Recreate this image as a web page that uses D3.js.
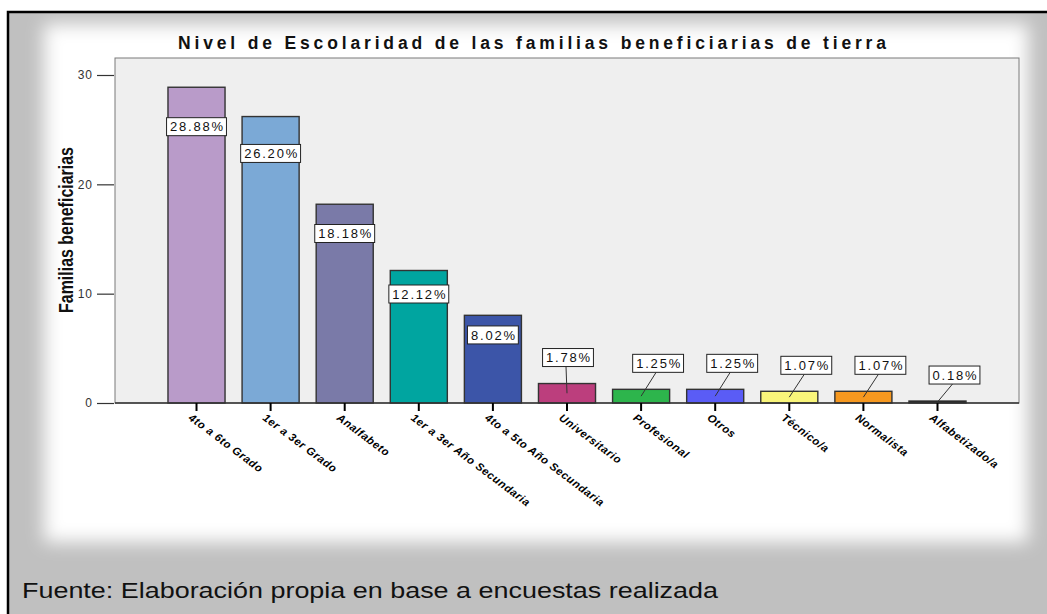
<!DOCTYPE html>
<html>
<head>
<meta charset="utf-8">
<script src="https://cdn.jsdelivr.net/npm/d3@7"></script>
<style>
    html, body { margin: 0; padding: 0; background: #ffffff; }
    svg { display: block; }
</style>
</head>
<body>
<svg id="chart" width="1047" height="614"></svg>
<script>
"use strict";


//
// Data
//

var categories = [
    "4to a 6to Grado",
    "1er a 3er Grado",
    "Analfabeto",
    "1er a 3er Año Secundaria",
    "4to a 5to Año Secundaria",
    "Universitario",
    "Profesional",
    "Otros",
    "Técnico/a",
    "Normalista",
    "Alfabetizado/a"
];

var values = [28.88, 26.20, 18.18, 12.12, 8.02, 1.78, 1.25, 1.25, 1.07, 1.07, 0.18];

var barColors = ["#b99bc9", "#7ba9d6", "#7a7aa8", "#00a5a0", "#3c55a8", "#bc3e7d",
                 "#2db54c", "#5a5cf6", "#f9f57a", "#f6981f", "#111111"];

var yTicks = [0, 10, 20, 30];

var titleText = "Nivel de Escolaridad de las familias beneficiarias de tierra";
var yTitle = "Familias beneficiarias";
var sourceText = "Fuente: Elaboración propia en base a encuestas realizada";


//
// Layout
//

var plot = { left: 115, right: 1019, top: 58, bottom: 403 };

var svg = d3.select("#chart");
var defs = svg.append("defs");

var glow = defs.append("filter")
    .attr("id", "glow")
    .attr("x", "-10%").attr("y", "-10%")
    .attr("width", "120%").attr("height", "120%");
glow.append("feGaussianBlur").attr("stdDeviation", 9);

// white page, grey frame, black border on the left and top
svg.append("rect")
    .attr("x", 8).attr("y", 12)
    .attr("width", 1047 - 8).attr("height", 614 - 12)
    .style("fill", "#c0c0c0");

svg.append("rect")
    .attr("x", 44).attr("y", 24)
    .attr("width", 984).attr("height", 518)
    .style("fill", "#ffffff")
    .attr("filter", "url(#glow)");

svg.append("path")
    .attr("d", "M8,614 V12 H1047")
    .style("fill", "none")
    .style("stroke", "#000")
    .style("stroke-width", 2.5);


//
// Scales
//

var x = d3.scaleBand()
    .domain(categories)
    .range([plot.left, plot.right])
    .paddingInner(0.23)
    .paddingOuter(0.715);

var y = d3.scaleLinear()
    .domain([0, 30])
    .range([plot.bottom, 75]);


//
// Plot frame
//

svg.append("rect")
    .attr("x", plot.left).attr("y", plot.top)
    .attr("width", plot.right - plot.left)
    .attr("height", plot.bottom - plot.top)
    .style("fill", "#efefef")
    .style("stroke", "#7a7a7a")
    .style("stroke-width", 1);

svg.append("text")
    .attr("x", 532)
    .attr("y", 49)
    .attr("text-anchor", "middle")
    .attr("textLength", 708)
    .attr("lengthAdjust", "spacing")
    .style("font-family", "Arial, 'Liberation Sans', sans-serif")
    .style("font-weight", "bold")
    .style("font-size", "17.5px")
    .style("fill", "#111")
    .text(titleText);


//
// Y axis
//

var yAxis = d3.axisLeft(y)
    .tickValues(yTicks)
    .tickSize(17)
    .tickPadding(4);

var yAxisGroup = svg.append("g")
    .attr("transform", "translate(" + (plot.left - 1) + ",0)")
    .call(yAxis);

yAxisGroup.select(".domain").remove();
yAxisGroup.selectAll(".tick line").style("stroke", "#333").style("stroke-width", 1.2);
yAxisGroup.selectAll(".tick text")
    .style("font-family", "Arial, 'Liberation Sans', sans-serif")
    .style("font-size", "12px")
    .style("letter-spacing", "1px")
    .style("fill", "#333");

svg.append("text")
    .attr("transform", "translate(73,230) rotate(-90)")
    .attr("text-anchor", "middle")
    .attr("textLength", 166)
    .attr("lengthAdjust", "spacingAndGlyphs")
    .style("font-family", "'Liberation Sans Narrow', 'Arial Narrow', sans-serif")
    .style("font-size", "20px")
    .style("font-weight", "bold")
    .style("fill", "#111")
    .text(yTitle);


//
// Bars
//

var bars = categories.map(function (c, i) {
    return { name: c, value: values[i], color: barColors[i], idx: i };
});

svg.selectAll("rect.bar")
    .data(bars)
    .enter().append("rect")
    .attr("class", "bar")
    .attr("x", function (d) { return x(d.name); })
    .attr("y", function (d) { return y(d.value); })
    .attr("width", x.bandwidth())
    .attr("height", function (d) { return plot.bottom - y(d.value); })
    .style("fill", function (d) { return d.color; })
    .style("stroke", "#333")
    .style("stroke-width", 1.4);


//
// X axis
//

svg.append("line")
    .attr("x1", plot.left).attr("x2", plot.right)
    .attr("y1", plot.bottom).attr("y2", plot.bottom)
    .style("stroke", "#333")
    .style("stroke-width", 1.6);

var xTicks = svg.selectAll("g.xtick")
    .data(bars)
    .enter().append("g")
    .attr("class", "xtick")
    .attr("transform", function (d) {
        return "translate(" + (x(d.name) + x.bandwidth() / 2) + "," + plot.bottom + ")";
    });

xTicks.append("line")
    .attr("y1", 0).attr("y2", 8)
    .style("stroke", "#000")
    .style("stroke-width", 2);

xTicks.append("text")
    .attr("transform", "translate(-4,10) rotate(37)")
    .attr("text-anchor", "start")
    .attr("dy", "0.7em")
    .style("font-family", "Arial, 'Liberation Sans', sans-serif")
    .style("font-weight", "bold")
    .style("font-style", "italic")
    .style("font-size", "11px")
    .style("letter-spacing", "0.6px")
    .style("fill", "#000")
    .text(function (d) { return d.name; });


//
// Percentage labels
//

var fmt = d3.format(".2f");

var labels = svg.selectAll("g.pct")
    .data(bars)
    .enter().append("g")
    .attr("class", "pct");

labels.each(function (d, i) {

    var g = d3.select(this),
        cx = x(d.name) + x.bandwidth() / 2,
        small = d.value < 5,
        bx = cx,
        by;

    if (small) {
        bx = cx + (i === 5 ? 1 : 17);
        by = y(d.value) - 26;

        g.append("line")
            .attr("x1", cx).attr("y1", (y(d.value) + plot.bottom) / 2)
            .attr("x2", bx - 2).attr("y2", by + 9)
            .style("stroke", "#333")
            .style("stroke-width", 1);
    } else {
        by = y(d.value) + 12 + d.value * 0.95;
    }

    var box = g.append("rect")
        .style("fill", "#fff")
        .style("stroke", "#222")
        .style("stroke-width", 1);

    var t = g.append("text")
        .attr("x", bx + 1)
        .attr("y", by)
        .attr("dy", "0.36em")
        .attr("text-anchor", "middle")
        .style("font-family", "Arial, 'Liberation Sans', sans-serif")
        .style("font-size", "13px")
        .style("letter-spacing", "1.8px")
        .style("fill", "#111")
        .text(fmt(d.value) + "%");

    var w = t.node().getComputedTextLength() + 5;
    box.attr("x", bx - w / 2).attr("y", by - 9)
        .attr("width", w).attr("height", 18);
});


//
// Source note
//

svg.append("text")
    .attr("x", 22)
    .attr("y", 598)
    .attr("textLength", 696)
    .attr("lengthAdjust", "spacingAndGlyphs")
    .style("font-family", "Arial, 'Liberation Sans', sans-serif")
    .style("font-size", "22px")
    .style("fill", "#111")
    .text(sourceText);

</script>
</body>
</html>
